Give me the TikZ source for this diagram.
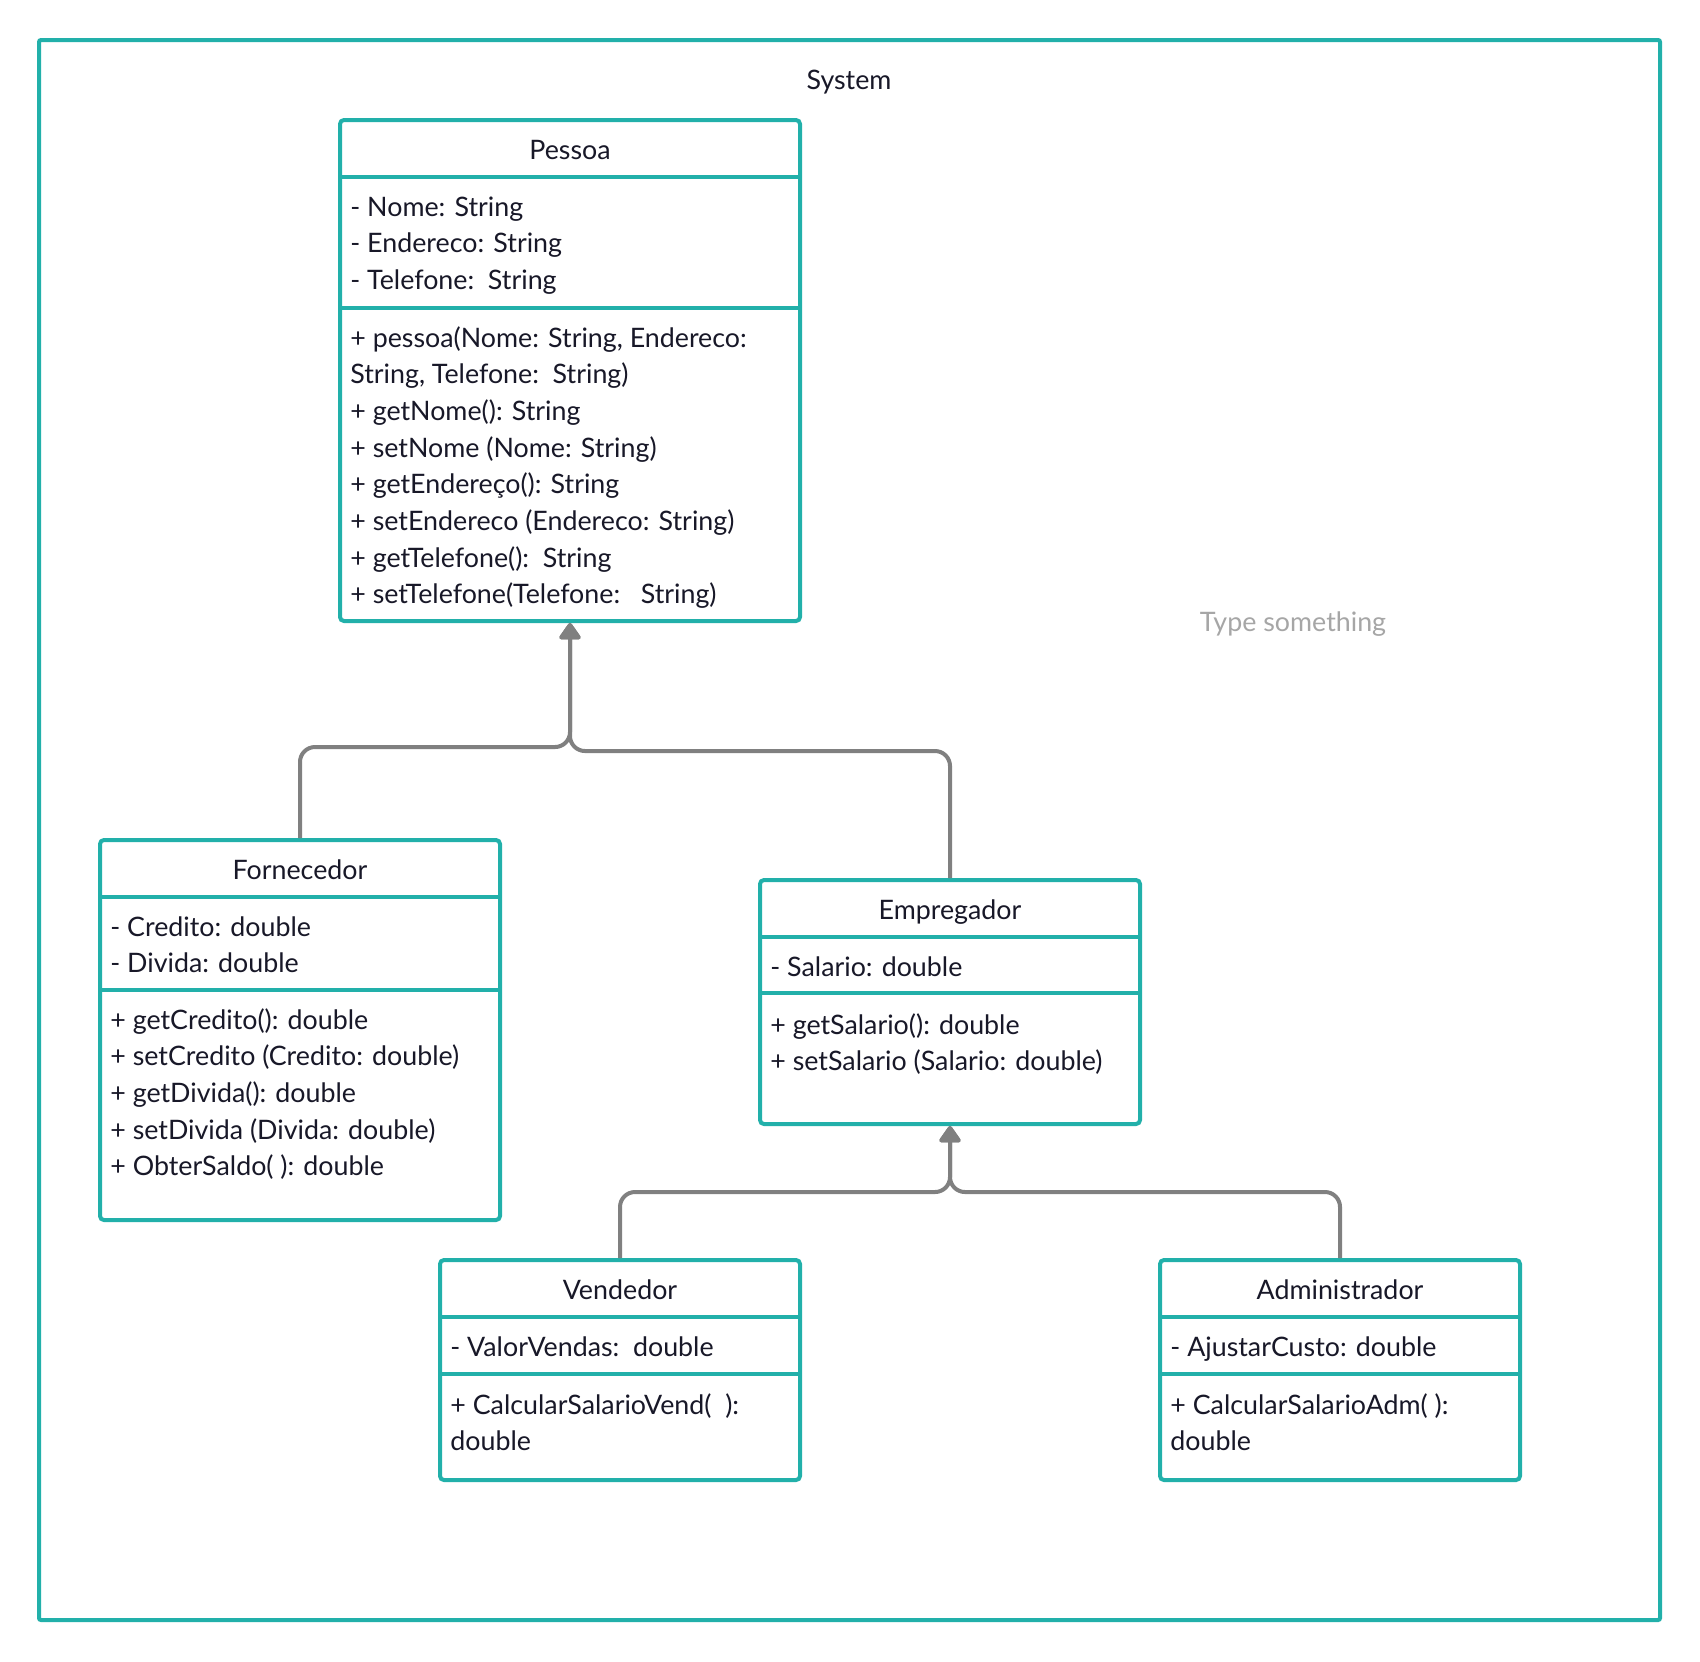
\documentclass[tikz,border=0pt]{standalone}
\usepackage{fontspec}
\setmainfont{Lato}
\usetikzlibrary{arrows.meta,fit}
\definecolor{umlteal}{RGB}{34,176,170}
\definecolor{umlgray}{RGB}{128,128,128}
\definecolor{umlink}{RGB}{24,24,40}
\definecolor{umlhint}{RGB}{166,166,166}
\begin{document}
\begin{tikzpicture}[x=0.5pt,y=-0.5pt,
  umlbox/.style={draw=umlteal, line width=2pt, rounded corners=2pt, inner sep=0pt},
  sepline/.style={draw=umlteal, line width=2pt},
  txt/.style={text=umlink, font=\fontsize{13.4pt}{16pt}\selectfont, inner sep=0pt, anchor=base west},
  ttl/.style={txt, anchor=base},
  gen/.style={draw=umlgray, line width=2pt, rounded corners=7.5pt,
              -{Triangle[length=9pt,width=12pt,round]}}
]
\fill[white] (0,0) rectangle (1700,1661);
\useasboundingbox (0,0) rectangle (1700,1661);

% system frame
\node[umlbox, rounded corners=1pt, fit={(39,40) (1660,1620)}] (system) {};
\node[ttl] (system-title) at (849,89) {System};

% ---------- Pessoa ----------
\node[umlbox, fit={(340,120) (800,621)}] (pessoa) {};
\draw[sepline] (340,177) -- (800,177);
\draw[sepline] (340,308) -- (800,308);
\node[ttl] (pessoa-t) at (570,159) {Pessoa};
\foreach \t [count=\i from 0] in {{- Nome: String},{- Endereco: String},{- Telefone:\ \ String}}
  \node[txt] (pessoa-a\i) at (350,{216+36.67*\i}) {\t};
\foreach \t [count=\i from 0] in {
  {+ pessoa(Nome: String, Endereco:},
  {String, Telefone:\ \ String)},
  {+ getNome(): String},
  {+ setNome (Nome: String)},
  {+ getEndereço(): String},
  {+ setEndereco (Endereco: String)},
  {+ getTelefone():\ \ String},
  {+ setTelefone(Telefone:\ \ \ String)}}
  \node[txt] (pessoa-m\i) at (350,{347+36.67*\i}) {\t};

% ---------- Fornecedor ----------
\node[umlbox, fit={(100,840) (500,1220)}] (fornecedor) {};
\draw[sepline] (100,897) -- (500,897);
\draw[sepline] (100,990) -- (500,990);
\node[ttl] (fornecedor-t) at (300,879) {Fornecedor};
\foreach \t [count=\i from 0] in {{- Credito: double},{- Divida: double}}
  \node[txt] (fornecedor-a\i) at (110,{936+36.67*\i}) {\t};
\foreach \t [count=\i from 0] in {
  {+ getCredito(): double},
  {+ setCredito (Credito: double)},
  {+ getDivida(): double},
  {+ setDivida (Divida: double)},
  {+ ObterSaldo( ): double}}
  \node[txt] (fornecedor-m\i) at (110,{1029+36.67*\i}) {\t};

% ---------- Empregador ----------
\node[umlbox, fit={(760,880) (1140,1124)}] (empregador) {};
\draw[sepline] (760,937) -- (1140,937);
\draw[sepline] (760,993) -- (1140,993);
\node[ttl] (empregador-t) at (950,919) {Empregador};
\node[txt] (empregador-a0) at (770,976) {- Salario: double};
\foreach \t [count=\i from 0] in {
  {+ getSalario(): double},
  {+ setSalario (Salario: double)}}
  \node[txt] (empregador-m\i) at (770,{1034+36.67*\i}) {\t};

% ---------- Vendedor ----------
\node[umlbox, fit={(440,1260) (800,1480)}] (vendedor) {};
\draw[sepline] (440,1317) -- (800,1317);
\draw[sepline] (440,1374) -- (800,1374);
\node[ttl] (vendedor-t) at (620,1299) {Vendedor};
\node[txt] (vendedor-a0) at (450,1356) {- ValorVendas:\ \ double};
\foreach \t [count=\i from 0] in {{+ CalcularSalarioVend(\ \ ):},{double}}
  \node[txt] (vendedor-m\i) at (450,{1414+36.67*\i}) {\t};

% ---------- Administrador ----------
\node[umlbox, fit={(1160,1260) (1520,1480)}] (administrador) {};
\draw[sepline] (1160,1317) -- (1520,1317);
\draw[sepline] (1160,1374) -- (1520,1374);
\node[ttl] (administrador-t) at (1340,1299) {Administrador};
\node[txt] (administrador-a0) at (1170,1356) {- AjustarCusto: double};
\foreach \t [count=\i from 0] in {{+ CalcularSalarioAdm( ):},{double}}
  \node[txt] (administrador-m\i) at (1170,{1414+36.67*\i}) {\t};

% free text
\node[ttl, text=umlhint] (hint) at (1293,631) {Type something};

% generalisations
\draw[gen] (fornecedor.north) |- (570,747) -- (pessoa.south);
\draw[gen] (empregador.north) |- (570,751) -- (pessoa.south);
\draw[gen] (vendedor.north) |- (950,1192) -- (empregador.south);
\draw[gen] (administrador.north) |- (950,1192) -- (empregador.south);
\end{tikzpicture}
\end{document}
